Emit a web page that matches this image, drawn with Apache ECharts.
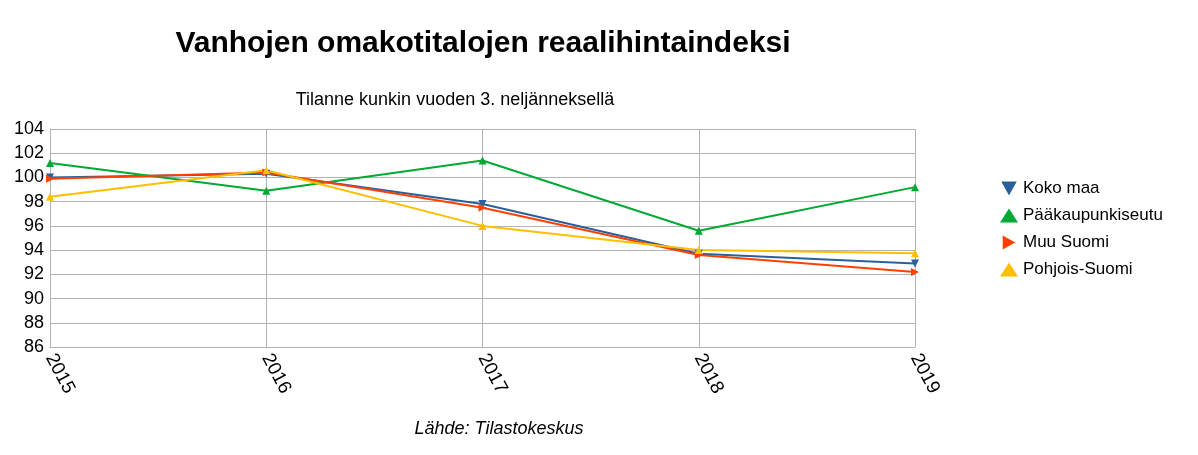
<!DOCTYPE html><html><head><meta charset="utf-8">
<script src="https://cdn.jsdelivr.net/npm/echarts@6/dist/echarts.min.js"></script>
<style>body{margin:0}#c{width:1198px;height:455px}</style></head><body><div id="c"></div><script>
const years=['2015','2016','2017','2018','2019'];
const kokoMaa=[100.0,100.3,97.8,93.7,92.9];
const paakaupunkiseutu=[101.2,98.9,101.4,95.6,99.2];
const muuSuomi=[99.9,100.4,97.5,93.6,92.2];
const pohjoisSuomi=[98.4,100.6,96.0,94.0,93.75];
const names=['Koko maa','Pääkaupunkiseutu','Muu Suomi','Pohjois-Suomi'];
const colors=['#2a6099','#00a933','#ff4000','#ffbf00'];
const syms=['path://M0,0L10,0L5,9Z','triangle','path://M0,0L9,5L0,10Z','triangle'];
const data=[kokoMaa,paakaupunkiseutu,muuSuomi,pohjoisSuomi];
const ch=echarts.init(document.getElementById('c'));
const F='Liberation Sans';
ch.setOption({
 animation:false,
 textStyle:{fontFamily:F},
 title:[{text:'Vanhojen omakotitalojen reaalihintaindeksi',left:478,top:24,textAlign:'center',textStyle:{fontSize:30,fontWeight:'bold',color:'#000',fontFamily:F}},
 {text:'Tilanne kunkin vuoden 3. neljänneksellä',left:450,top:86,textAlign:'center',textStyle:{fontSize:18,fontWeight:'normal',color:'#000',fontFamily:F}},
 {text:'Lähde: Tilastokeskus',left:494,top:415,textAlign:'center',textStyle:{fontSize:18,fontWeight:'normal',fontStyle:'italic',color:'#000',fontFamily:F}}],
 legend:{orient:'vertical',left:995,top:175,itemGap:10,itemWidth:18,itemHeight:14,textStyle:{fontSize:17,color:'#000',fontFamily:F},data:names.map((n,i)=>({name:n,icon:syms[i]}))},
 grid:{left:50,right:283,top:129,bottom:108},
 xAxis:{type:'category',data:years,boundaryGap:false,axisLine:{lineStyle:{color:'#b3b3b3'}},axisTick:{show:false},
  splitLine:{show:true,lineStyle:{color:'#b3b3b3'}},axisLabel:{rotate:-62,fontSize:19,color:'#000',margin:8,align:'left'}},
 yAxis:{type:'value',min:86,max:104,interval:2,axisLine:{show:true,lineStyle:{color:'#b3b3b3'}},
  splitLine:{lineStyle:{color:'#b3b3b3'}},axisLabel:{fontSize:18,color:'#000',margin:6}},
 series:data.map((d,i)=>({name:names[i],type:'line',data:d,color:colors[i],symbol:syms[i],symbolSize:8,lineStyle:{width:2},itemStyle:{color:colors[i]}}))
});
</script></body></html>
